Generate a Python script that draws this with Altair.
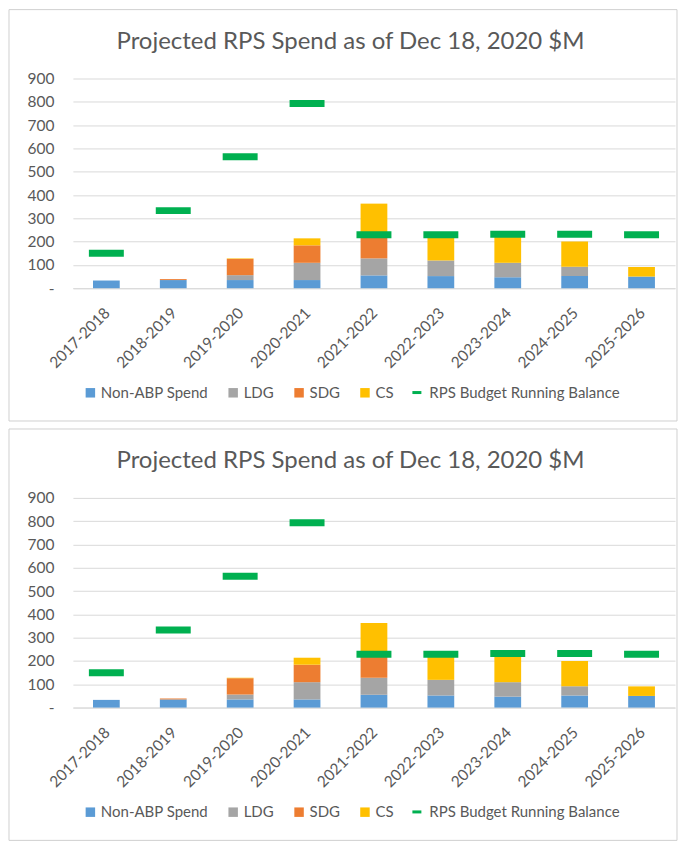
import altair as alt
import pandas as pd

years = ["2017-2018", "2018-2019", "2019-2020", "2020-2021", "2021-2022",
         "2022-2023", "2023-2024", "2024-2025", "2025-2026"]
series = ["Non-ABP Spend", "LDG", "SDG", "CS"]
non_abp = [33, 35, 35, 35, 55, 52, 47, 52, 50]
ldg = [0, 0, 21, 74, 73, 67, 62, 40, 0]
sdg = [0, 4, 70, 75, 96, 0, 0, 0, 0]
cs = [0, 0, 2, 30, 139, 100, 116, 108, 41]
budget = [150, 333, 564, 793, 229, 229, 232, 232, 229]
budget_name = "RPS Budget Running Balance"
y_ticks = [0, 100, 200, 300, 400, 500, 600, 700, 800, 900]
colors = ["#5B9BD5", "#A5A5A5", "#ED7D31", "#FFC000"]
green = "#00B050"
title_text = "Projected RPS Spend as of Dec 18, 2020 $M"

rows = []
for i, yr in enumerate(years):
    for k, (name, vals) in enumerate(zip(series, [non_abp, ldg, sdg, cs])):
        rows.append({"Year": yr, "Series": name, "Value": vals[i], "Order": k})
bars_df = pd.DataFrame(rows)
bud_df = pd.DataFrame({"Year": years, "Series": budget_name, "Value": budget})
one_df = pd.DataFrame({"a": [0]})

FONT = "Lato"
GRAY = "#595959"
GRID = "#D9D9D9"


def panel():
    x = alt.X("Year:N", sort=years, title=None,
              scale=alt.Scale(paddingInner=0.6, paddingOuter=0.3),
              axis=alt.Axis(labelAngle=-45, labelFontSize=15.5, labelColor=GRAY,
                            labelFont=FONT, ticks=False, domainColor=GRID,
                            labelPadding=17, labelOffset=-4, grid=False))
    y_axis = alt.Axis(values=y_ticks, labelFontSize=15.5,
                      labelColor=GRAY, labelFont=FONT, ticks=False,
                      domain=False, gridColor=GRID, labelPadding=19,
                      labelOverlap=False, tickCount=10,
                      labelExpr="datum.value == 0 ? '-' : datum.label")
    y_scale = alt.Scale(domain=[0, 900], nice=False)
    bars = alt.Chart(bars_df).mark_bar(opacity=1).encode(
        x=x,
        y=alt.Y("Value:Q", title=None, stack="zero", scale=y_scale, axis=y_axis),
        color=alt.Color("Series:N", scale=alt.Scale(domain=series, range=colors),
                        legend=alt.Legend(orient="none", direction="horizontal",
                                          legendX=10, legendY=307, title=None,
                                          symbolType="square", symbolSize=90,
                                          symbolOpacity=1,
                                          labelFontSize=15, labelColor=GRAY,
                                          labelFont=FONT, columnPadding=17,
                                          labelOffset=3, padding=0, labelLimit=300)),
        order=alt.Order("Order:Q"),
    )
    ticks = alt.Chart(bud_df).mark_tick(orient="horizontal", thickness=7, size=35,
                                        opacity=1).encode(
        x=x,
        y=alt.Y("Value:Q", title=None, scale=y_scale, axis=y_axis),
        color=alt.Color("Series:N", scale=alt.Scale(domain=[budget_name], range=[green]),
                        legend=alt.Legend(orient="none", direction="horizontal",
                                          legendX=337, legendY=307, title=None,
                                          symbolType="stroke", symbolSize=81,
                                          symbolStrokeWidth=3, symbolStrokeColor=green,
                                          symbolOpacity=1,
                                          labelFontSize=15, labelColor=GRAY,
                                          labelFont=FONT, labelOffset=5, padding=0,
                                          labelLimit=300)),
    )
    title = alt.Chart(one_df).mark_text(
        text=title_text, font=FONT, fontSize=24, color=GRAY, align="center",
        baseline="alphabetic").encode(x=alt.value(278), y=alt.value(-30))
    frame = alt.Chart(one_df).mark_rect(fillOpacity=0, stroke="#D0D0D0", strokeWidth=1).encode(
        x=alt.value(-64), x2=alt.value(605), y=alt.value(-69), y2=alt.value(343))
    return alt.layer(frame, bars, ticks, title).resolve_scale(color="independent").properties(
        width=603, height=210)


chart = alt.vconcat(panel(), panel(), spacing=6).properties(
    padding={"left": 0, "top": 0, "right": 0, "bottom": 0}
).configure_view(stroke=None)

chart.save("out.html", embed_options={"renderer": "svg", "actions": False})
